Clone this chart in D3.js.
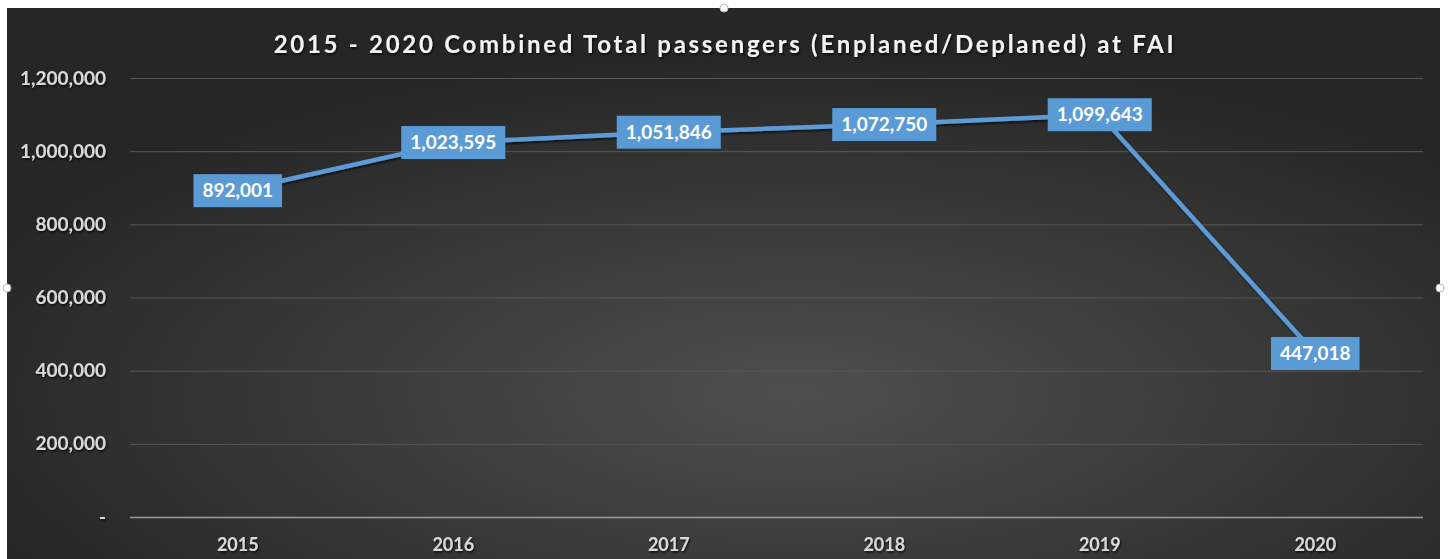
<!DOCTYPE html>
<html>
<head>
<meta charset="utf-8">
<script src="https://cdn.jsdelivr.net/npm/d3@7"></script>
<style>
  body { margin: 0; background: #fff; }
  svg { display: block; }
</style>
</head>
<body>
<svg class="chart" width="1448" height="559"></svg>
<script>
const years = ["2015", "2016", "2017", "2018", "2019", "2020"];
const passengers = [892001, 1023595, 1051846, 1072750, 1099643, 447018];
const yTicks = [0, 200000, 400000, 600000, 800000, 1000000, 1200000];
const chartTitle = "2015 - 2020 Combined Total passengers (Enplaned/Deplaned) at FAI";

const width = 1448, height = 559;
const font = "Lato, 'Open Sans', sans-serif";
const svg = d3.select(".chart");

// background gradient like the excel dark style
const defs = svg.append("defs");
const grad = defs.append("radialGradient")
    .attr("id", "bg")
    .attr("cx", "55%").attr("cy", "70%").attr("r", "62%");
grad.append("stop").attr("offset", "0%").attr("stop-color", "#4f4f4f");
grad.append("stop").attr("offset", "100%").attr("stop-color", "#262626");

const shadow = defs.append("filter").attr("id", "shadow")
    .attr("x", "-5%").attr("y", "-20%").attr("width", "110%").attr("height", "140%");
shadow.append("feDropShadow")
    .attr("dx", 1).attr("dy", 1.5).attr("stdDeviation", 1)
    .attr("flood-color", "#000").attr("flood-opacity", 0.8);

svg.append("rect")
    .attr("x", 7).attr("y", 8)
    .attr("width", 1433).attr("height", height - 8)
    .attr("fill", "url(#bg)");

const margin = { left: 130, right: 25, top: 78, bottom: 42 };

const x = d3.scaleBand()
    .domain(years)
    .range([margin.left, width - margin.right]);

const y = d3.scaleLinear()
    .domain([0, 1200000])
    .range([height - margin.bottom, margin.top]);

const fmt = d3.format(",");

// gridlines + y labels
const yAxis = svg.append("g")
    .attr("transform", `translate(${margin.left},0)`)
    .call(d3.axisLeft(y)
        .tickValues(yTicks)
        .tickSize(-(width - margin.left - margin.right))
        .tickPadding(24)
        .tickFormat(d => d === 0 ? "-" : fmt(d)));
yAxis.select(".domain").remove();
yAxis.selectAll(".tick line")
    .attr("stroke", d => d === 0 ? "#9a9a9a" : "#575757")
    .attr("stroke-width", d => d === 0 ? 1.5 : 1);
yAxis.selectAll(".tick text")
    .attr("fill", "#d9d9d9")
    .attr("font-family", font)
    .attr("font-weight", "bold")
    .attr("font-size", 19)
    .attr("filter", "url(#shadow)");

// x labels
const xAxis = svg.append("g")
    .attr("transform", `translate(0,${height - margin.bottom})`)
    .call(d3.axisBottom(x).tickSize(0).tickPadding(21));
xAxis.select(".domain").remove();
xAxis.selectAll(".tick text")
    .attr("fill", "#d9d9d9")
    .attr("font-family", font)
    .attr("font-weight", "bold")
    .attr("font-size", 18)
    .attr("filter", "url(#shadow)");

// title, spaced out to the width it has in the original
const title = svg.append("text")
    .attr("x", 725).attr("y", 53)
    .attr("text-anchor", "middle")
    .attr("fill", "#f2f2f2")
    .attr("font-family", font)
    .attr("font-weight", "bold")
    .attr("font-size", 24)
    .attr("filter", "url(#shadow)")
    .text(chartTitle);
const titleW = title.node().getComputedTextLength();
title.attr("letter-spacing", Math.max(0, (900 - titleW) / (chartTitle.length - 1)));

// line
const line = d3.line()
    .x((d, i) => x(years[i]) + x.bandwidth() / 2)
    .y(d => y(d));

svg.append("path")
    .datum(passengers)
    .attr("fill", "none")
    .attr("stroke", "#5b9bd5")
    .attr("stroke-width", 4.5)
    .attr("filter", "url(#shadow)")
    .attr("d", line);

// data labels
const labels = svg.append("g").selectAll("g")
    .data(passengers)
    .join("g")
    .attr("transform", (d, i) => `translate(${x(years[i]) + x.bandwidth() / 2},${y(d)})`);

labels.append("rect").attr("fill", "#5b9bd5");
labels.append("text")
    .attr("text-anchor", "middle")
    .attr("dy", "0.35em")
    .attr("fill", "#fff")
    .attr("font-family", font)
    .attr("font-weight", "bold")
    .attr("font-size", 19)
    .text(d => fmt(d));

labels.each(function () {
    const g = d3.select(this);
    const bb = g.select("text").node().getBBox();
    g.select("rect")
        .attr("x", -bb.width / 2 - 9)
        .attr("y", -16.5)
        .attr("width", bb.width + 18)
        .attr("height", 33);
});

// selection handles
const handles = [[724, 8], [7, 288], [1440, 288]];
svg.append("g").selectAll("circle")
    .data(handles)
    .join("circle")
    .attr("cx", d => d[0]).attr("cy", d => d[1])
    .attr("r", 4)
    .attr("fill", "#fff")
    .attr("stroke", "#bbb");
</script>
</body>
</html>
